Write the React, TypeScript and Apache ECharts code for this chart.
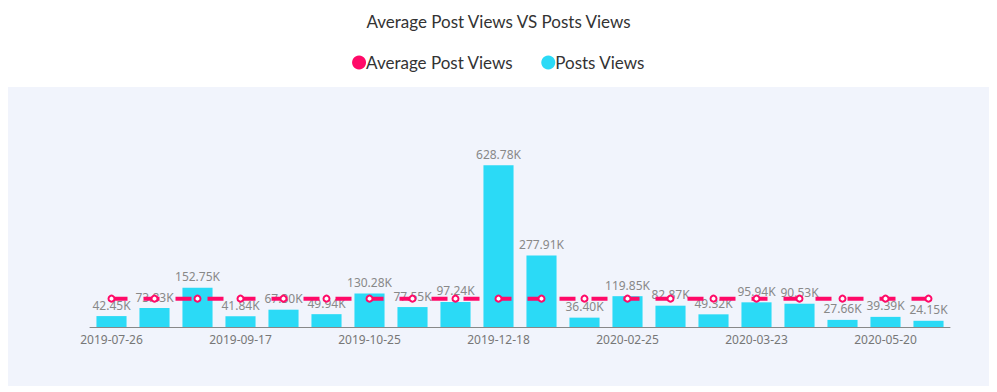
import React, { useEffect, useRef } from "react";
import * as echarts from "echarts";

const categories = [
  "2019-07-26", "2019-08-09", "2019-08-28", "2019-09-17", "2019-09-30",
  "2019-10-11", "2019-10-25", "2019-11-08", "2019-11-27", "2019-12-18",
  "2020-01-10", "2020-02-04", "2020-02-25", "2020-03-04", "2020-03-13",
  "2020-03-23", "2020-04-08", "2020-04-27", "2020-05-20", "2020-06-05",
];

const postsViews = [
  42.45, 73.83, 152.75, 41.84, 67.3, 49.94, 130.28, 77.55, 97.24, 628.78,
  277.91, 36.4, 119.85, 82.87, 49.32, 95.94, 90.53, 27.66, 39.39, 24.15,
];

const averagePostViews = [
  110.3, 110.3, 110.3, 110.3, 110.3, 110.3, 110.3, 110.3, 110.3, 110.3,
  110.3, 110.3, 110.3, 110.3, 110.3, 110.3, 110.3, 110.3, 110.3, 110.3,
];

const PINK = "#ff0a68";
const CYAN = "#2bdaf6";

export default function App() {
  const ref = useRef<HTMLDivElement>(null);
  useEffect(() => {
    if (!ref.current) return;
    const chart = echarts.init(ref.current, undefined, { renderer: "svg" });
    chart.setOption({
      animation: false,
      title: {
        text: "Average Post Views VS Posts Views",
        left: "center",
        top: 0,
        textStyle: { fontFamily: "Lato", fontSize: 17, fontWeight: "normal", color: "#333" },
      },
      legend: {
        top: 41,
        left: "center",
        icon: "circle",
        itemWidth: 14,
        itemHeight: 14,
        itemGap: 28,
        textStyle: { fontFamily: "Lato", fontSize: 17, color: "#333", padding: [0, 0, 0, -5] },
        data: [
          { name: "Average Post Views", itemStyle: { color: PINK } },
          { name: "Posts Views", itemStyle: { color: CYAN } },
        ],
      },
      graphic: [
        {
          type: "rect",
          left: 0,
          top: 79,
          z: -10,
          silent: true,
          shape: { width: 982, height: 299 },
          style: { fill: "#f1f4fc" },
        },
      ],
      grid: { left: 82, right: 39, top: 139, bottom: 59 },
      xAxis: {
        type: "category",
        data: categories,
        axisLine: { lineStyle: { color: "#888" } },
        axisTick: { interval: 2, alignWithLabel: true, lineStyle: { color: "#888" }, length: 5 },
        axisLabel: { interval: 2, color: "#777", fontSize: 12, fontFamily: "Noto Sans", margin: 6 },
      },
      yAxis: { type: "value", show: false, min: 0, max: 700, splitLine: { show: false } },
      series: [
        {
          name: "Posts Views",
          type: "bar",
          data: postsViews,
          barWidth: "70%",
          itemStyle: { color: CYAN },
          z: 2,
          label: {
            show: true,
            position: "top",
            distance: 5,
            color: "#888",
            fontSize: 12,
            fontFamily: "Noto Sans",
            formatter: (p: any) => p.value.toFixed(2) + "K",
          },
        },
        {
          name: "Average Post Views",
          type: "line",
          data: averagePostViews,
          z: 3,
          symbol: "emptyCircle",
          symbolSize: 6,
          showAllSymbol: true,
          lineStyle: { color: PINK, width: 4, type: [16, 16] },
          itemStyle: { color: PINK, borderWidth: 1.5 },
        },
      ],
    });
    return () => chart.dispose();
  }, []);
  return <div ref={ref} style={{ width: 981, height: 378 }} />;
}
